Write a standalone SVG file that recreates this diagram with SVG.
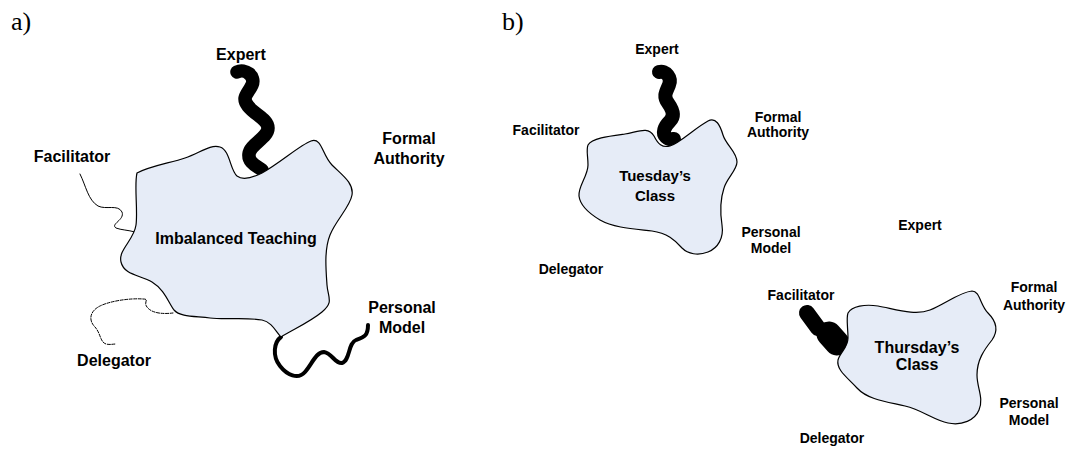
<svg xmlns="http://www.w3.org/2000/svg" width="1070" height="450" viewBox="0 0 1070 450">
<style>
.blob{fill:#e6ecf7;stroke:#000;stroke-width:1.2}
.lbl{font-family:"Liberation Sans",Arial,sans-serif;font-weight:bold;fill:#000;text-anchor:middle}
.la{font-size:16px}
.lb{font-size:14px}
.panel{font-family:"Liberation Serif","Times New Roman",serif;font-size:26px;fill:#000}
.conn{fill:none;stroke:#000;stroke-linecap:round;stroke-linejoin:round}
</style>
<rect width="1070" height="450" fill="#fff"/>
<text class="panel" x="11" y="30">a)</text>
<text class="panel" x="502" y="29.5">b)</text>

<g id="connectors">
  <path class="conn" stroke-width="13.5" d="M237,72 C245,68 256,76 252,85 C248,94 241,97 248,106 C255,115 268,119 268,128 C268,138 250,144 249,154 C248,163 257,166 262,170"/>
  <path class="conn" stroke-width="1" d="M80,174 C86,186 88,200 98,206 C106,210 118,204 122,212 C125,220 110,224 116,228 C121,230 128,230 135,232"/>
  <path class="conn" stroke-width="1" stroke-dasharray="3,1.5" stroke-linecap="butt" d="M173,313 C165,314 152,314 147,307 C143,302 150,299 143,299 C130,298 110,301 100,306 C90,311 88,320 95,327 C101,334 100,342 106,344 C110,345 113,344 116,344"/>
  <path class="conn" stroke-width="4" d="M281,337 C274,342 272,356 280,366 C287,375 298,380 305,372 C312,364 316,352 324,352 C332,353 335,364 342,363 C350,361 348,343 356,340 C364,337 368,336 368,325"/>
  <path class="conn" stroke-width="14" d="M659,72 C666,70 672,78 669,85 C666,92 663,96 668,103 C673,110 675,116 670,121 C664,127 662,133 666,137 C669,140 673,139 674,139"/>
  <path class="conn" stroke-width="16" d="M807,313 L818,328"/>
  <path class="conn" stroke-width="25" d="M829,334 L837,343"/>
</g>

<g id="imbalanced">
  <path class="blob" d="M137,173 C150,166 170,163 185,158 C200,153 210,144 220,147 C230,150 230,170 237,176 C242,180 252,178 262,173 C280,163 300,145 311,141 C322,137 322,155 332,165 C342,175 354,183 352,195 C350,207 336,220 330,235 C324,250 326,270 327,285 C328,298 334,302 322,312 C310,322 292,330 281,337 C276,332 272,322 262,320 C245,317 225,320 210,318 C195,316 180,317 174,310 C168,302 165,290 152,282 C140,275 124,275 121,262 C118,250 134,240 136,225 C138,210 134,185 137,173 Z"/>
  <text class="lbl la" x="236" y="244">Imbalanced Teaching</text>
</g>
<g id="a-expert"><text class="lbl la" x="241" y="60">Expert</text></g>
<g id="a-facilitator"><text class="lbl la" x="72" y="162">Facilitator</text></g>
<g id="a-formal"><text class="lbl la" x="409" y="144">Formal</text><text class="lbl la" x="409" y="164">Authority</text></g>
<g id="a-personal"><text class="lbl la" x="402" y="313">Personal</text><text class="lbl la" x="402" y="333">Model</text></g>
<g id="a-delegator"><text class="lbl la" x="114" y="366">Delegator</text></g>

<g id="tuesday">
  <path class="blob" d="M588,145 C592,138 610,136 625,134 C638,132 648,126 654,136 C658,144 662,148 670,146 C680,143 695,128 708,121 C716,117 720,125 723,135 C726,145 737,152 737,162 C737,170 727,178 724,188 C720,200 720,212 722,225 C724,238 718,248 708,252 C698,256 688,254 682,248 C675,240 667,233 652,231 C635,229 614,228 600,220 C590,214 580,205 579,196 C578,186 588,176 588,165 C588,156 586,150 588,145 Z"/>
  <text class="lbl" style="font-size:15px" x="655" y="181">Tuesday’s</text>
  <text class="lbl" style="font-size:15px" x="655" y="201">Class</text>
</g>
<g id="tue-expert"><text class="lbl lb" x="657" y="54">Expert</text></g>
<g id="tue-facilitator"><text class="lbl lb" x="546" y="135">Facilitator</text></g>
<g id="tue-formal"><text class="lbl lb" x="778" y="122">Formal</text><text class="lbl lb" x="778" y="137">Authority</text></g>
<g id="tue-personal"><text class="lbl lb" x="771" y="237">Personal</text><text class="lbl lb" x="771" y="253">Model</text></g>
<g id="tue-delegator"><text class="lbl lb" x="571" y="274">Delegator</text></g>

<g id="thursday">
  <path class="blob" d="M848,313 C852,306 865,304 878,306 C895,309 915,316 930,310 C945,304 960,292 972,291 C980,291 980,305 988,313 C996,321 999,330 992,340 C984,350 977,360 977,375 C977,388 984,398 979,410 C975,420 962,426 948,423 C934,420 922,410 905,406 C888,402 868,400 857,388 C848,378 836,370 838,360 C840,352 848,348 848,338 C848,328 846,318 848,313 Z"/>
  <text class="lbl" style="font-size:16px" x="917" y="353">Thursday’s</text>
  <text class="lbl" style="font-size:16px" x="917" y="370">Class</text>
</g>
<g id="thu-expert"><text class="lbl lb" x="920" y="230">Expert</text></g>
<g id="thu-facilitator"><text class="lbl lb" x="801" y="300">Facilitator</text></g>
<g id="thu-formal"><text class="lbl lb" x="1034" y="292">Formal</text><text class="lbl lb" x="1034" y="310">Authority</text></g>
<g id="thu-personal"><text class="lbl lb" x="1029" y="408">Personal</text><text class="lbl lb" x="1029" y="425">Model</text></g>
<g id="thu-delegator"><text class="lbl lb" x="832" y="443">Delegator</text></g>
</svg>
